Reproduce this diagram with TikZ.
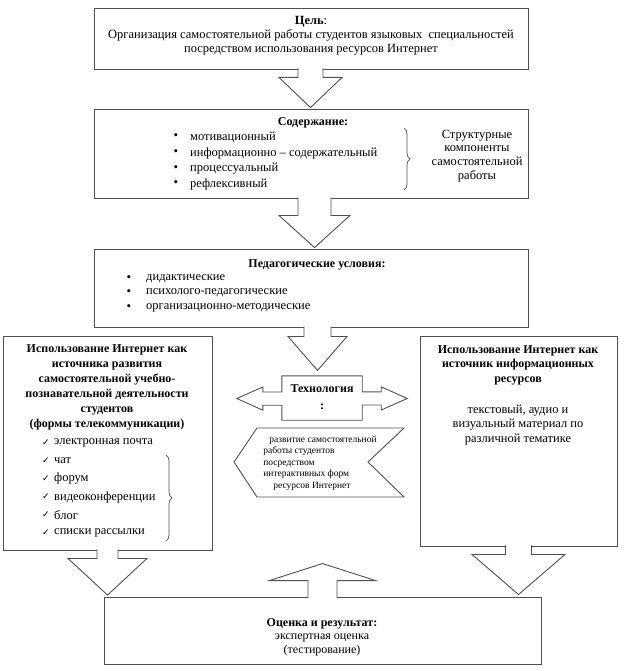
\documentclass[tikz,border=0pt]{standalone}
\usepackage{fontspec}
\setmainfont{Liberation Serif}
\newfontfamily\symf{DejaVu Sans}
\usetikzlibrary{calc,decorations.pathreplacing}
\definecolor{linec}{HTML}{505050}
% #1 start (centre of stem at box edge), #2 stem half width, #3 stem length, #4 head half width, #5 tip
\newcommand{\blkarrow}[5]{%
  \draw[blk] ($(#1)+(-#2,0)$) -- ++(0,#3) -- ++(#2-#4,0) -- (#5)
    -- ($(#1)+(#4,#3)$) -- ++(-#4+#2,0) -- ++(0,-#3);}
\begin{document}
\begin{tikzpicture}[x=1pt,y=-1pt,
  font=\fontsize{12.5}{14}\selectfont,
  boxst/.style={draw=linec, line width=0.9pt, fill=white, inner sep=0pt},
  blk/.style={draw=linec, line width=0.9pt, fill=white, line join=miter},
  txt/.style={inner sep=0pt, align=center},
  item/.style={inner sep=0pt, anchor=west},
  bul/.style={inner sep=0pt, font=\fontsize{13}{13}\selectfont},
  chk/.style={inner sep=0pt, font=\symf\fontsize{9}{9}\selectfont},
  brc/.style={draw=linec, line width=0.7pt, decorate, decoration={brace, amplitude=6pt}}]
\useasboundingbox (0,0) rectangle (623,671);

% boxes
\node[boxst, minimum width=434pt, minimum height=61pt] (c1) at (311,38.5) {};
\node[boxst, minimum width=434pt, minimum height=89pt] (c2) at (311,153.5) {};
\node[boxst, minimum width=434pt, minimum height=78pt] (c3) at (311,288) {};
\node[boxst, minimum width=209pt, minimum height=214pt] (L) at (107.5,443) {};
\node[boxst, minimum width=197pt, minimum height=210pt] (R) at (518.5,441) {};
\node[boxst, minimum width=437pt, minimum height=67pt] (B) at (322.5,630.5) {};

% block arrows
\coordinate (a1s) at ($(c1.south)+(-0.5,-1.2)$);
\coordinate (a1t) at ($(a1s |- c2.north)+(0,-1)$);
\blkarrow{a1s}{12.5}{9.2}{31.5}{a1t}
\coordinate (a2s) at ($(c2.south)+(3.5,-1.2)$);
\coordinate (a2t) at ($(a2s |- c3.north)+(0,-1)$);
\blkarrow{a2s}{16.5}{18.2}{35.5}{a2t}
\coordinate (a3s) at ($(c3.south)+(6.5,-1.2)$);
\coordinate (a3t) at ($(c3.south)+(6.5,43)$);
\blkarrow{a3s}{13.5}{10.2}{29.5}{a3t}
\coordinate (aLs) at ($(L.south)+(0,-1.2)$);
\coordinate (aLt) at ($(aLs |- B.north)+(0,-1.5)$);
\blkarrow{aLs}{10.5}{9.2}{39.5}{aLt}
\coordinate (aRs) at ($(R.south)+(0,-1.2)$);
\coordinate (aRt) at ($(aRs |- B.north)+(0,-2)$);
\blkarrow{aRs}{13}{9.2}{46.5}{aRt}
\coordinate (aBs) at ($(B.north)+(0,1.2)$);
\coordinate (aBt) at ($(B.north)+(0,-33)$);
\blkarrow{aBs}{14.5}{-17.2}{53}{aBt}

% technology double arrow
\node[inner sep=0pt, minimum width=80pt, minimum height=44pt] (tech) at (322,398) {};
\draw[blk] (tech.north west) -- (tech.north east) -- ++(0,16) -- ++(19,0) -- ++(0,-5)
  -- ($(tech.east)+(45,0.5)$) -- ($(tech.east)+(19,12)$) -- ++(0,-5) -- ++(-19,0)
  -- (tech.south east) -- (tech.south west) -- ++(0,-15) -- ++(-19,0) -- ++(0,5)
  -- ($(tech.west)+(-45,0.5)$) -- ($(tech.west)+(-19,-11)$) -- ++(0,5) -- ++(19,0) -- cycle;
\node[txt, font=\fontsize{12}{17}\selectfont\bfseries] (techt) at (322,397) {Технология\\:};

% chevron
\draw[blk] (257,428) -- (404,428) -- (368,462) -- (404,497) -- (257,497) -- (234,462) -- cycle;
\node[inner sep=0pt, align=left, font=\fontsize{9.5}{11.5}\selectfont] (chevt) at (320,463)
  {\hspace*{6pt}развитие самостоятельной\\работы студентов\\посредством\\интерактивных форм\\\hspace*{10pt}ресурсов Интернет};

% box 1 text
\node[txt] (t1) at (311,36) {\textbf{Цель}:\\Организация самостоятельной работы студентов языковых\ \ специальностей\\посредством использования ресурсов Интернет};

% box 2 text
\node[txt, font=\fontsize{12}{14}\selectfont\bfseries] (t2) at (313,123) {Содержание:};
\foreach \y/\t [count=\i] in {137/мотивационный,153/информационно – содержательный,169/процессуальный,184/рефлексивный}{
  \node[bul] (b2\i) at (176,\y) {•};
  \node[item] (i2\i) at (190,\y) {\t};
}
\draw[brc] (404,128) -- (404,190);
\node[txt, font=\fontsize{12.5}{13.7}\selectfont] (s2) at (477,156) {Структурные\\компоненты\\самостоятельной\\работы};

% box 3 text
\node[txt, font=\fontsize{12}{14}\selectfont\bfseries] (t3) at (317,265) {Педагогические условия:};
\foreach \y/\t [count=\i] in {279/дидактические,293/психолого-педагогические,308/организационно-методические}{
  \node[bul] (b3\i) at (129,\y) {•};
  \node[item] (i3\i) at (146,\y) {\t};
}

% left box text
\node[txt, font=\fontsize{12}{15}\selectfont\bfseries] (tL) at (107,387) {Использование Интернет как\\источника развития\\самостоятельной учебно-\\познавательной деятельности\\студентов\\(формы телекоммуникации)};
\foreach \y/\t [count=\i] in {443/электронная почта,461/чат,479/форум,497/видеоконференции,515/блог,533/списки рассылки}{
  \node[chk] (k\i) at (46,\y) {✓};
  \node[item] (iL\i) at (54,\y) {\t};
}
\draw[brc] (166,455) -- (166,541);

% right box text
\node[txt, font=\fontsize{12}{14.5}\selectfont\bfseries] (tR) at (518,365) {Использование Интернет как\\источник информационных\\ресурсов};
\node[txt, font=\fontsize{12.5}{14.5}\selectfont] (sR) at (518,425) {текстовый, аудио и\\визуальный материал по\\различной тематике};

% bottom box text
\node[txt, font=\fontsize{12}{13.5}\selectfont] (tB) at (322,637) {\textbf{Оценка и результат:}\\экспертная оценка\\(тестирование)};
\end{tikzpicture}
\end{document}
